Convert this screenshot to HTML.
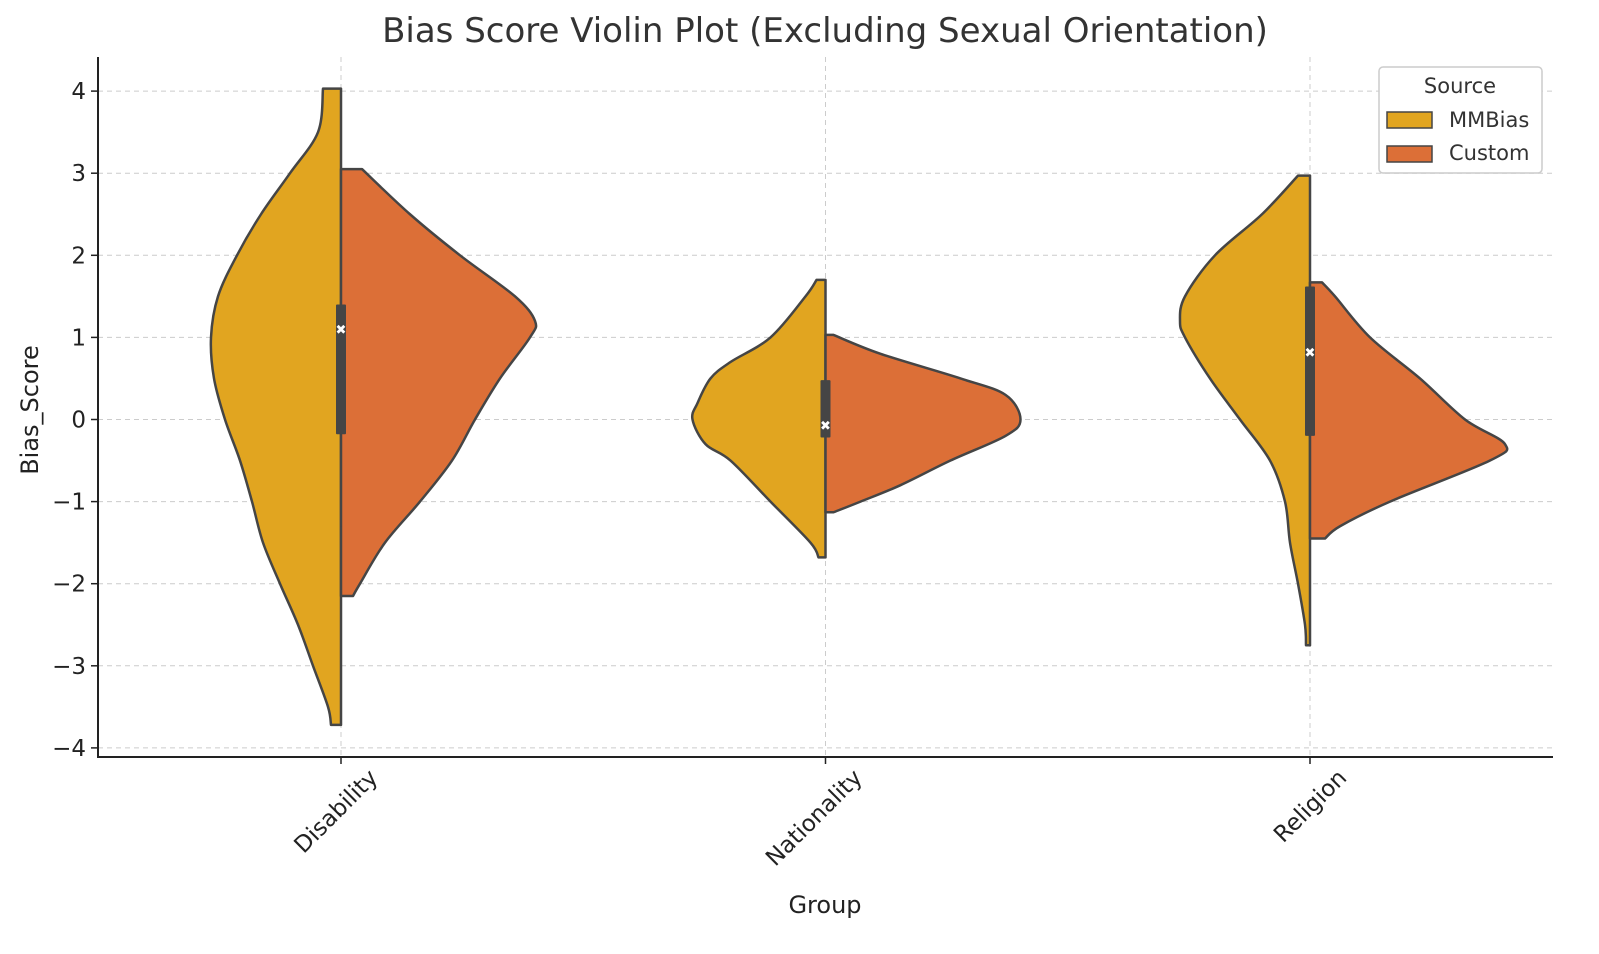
<!DOCTYPE html>
<html><head><meta charset="utf-8"><style>
body{margin:0;background:#fff;}
svg{display:block;font-family:"DejaVu Sans","Liberation Sans",sans-serif;}
</style></head><body>
<svg id="chart" width="1599" height="954"></svg>
<script>
const categories=["Disability","Nationality","Religion"];
const yTicks=[4,3,2,1,0,-1,-2,-3,-4];
// density profiles: [y, width] (width in px-equivalent units)
const mmbiasDisability=[[4.03,18],[3.5,23],[3,51],[2.5,80],[2,104],[1.5,123],[1,130],[0.5,127],[0,116],[-0.5,101],[-1,89],[-1.5,78],[-2,61],[-2.5,43],[-3,28],[-3.5,13],[-3.72,10]];
const customDisability=[[3.05,21],[2.5,69],[2,119],[1.5,174],[1.2,194],[1,189],[0.5,159],[0,134],[-0.5,111],[-1,79],[-1.5,44],[-2,19],[-2.15,12]];
const mmbiasNationality=[[1.7,9],[1.5,20],[1,55],[0.7,95],[0.5,115],[0.2,128],[0,133],[-0.3,120],[-0.5,95],[-1,55],[-1.5,15],[-1.68,7]];
const customNationality=[[1.03,8],[0.8,55],[0.5,135],[0.3,180],[0,195],[-0.2,180],[-0.5,125],[-0.8,75],[-1,35],[-1.13,8]];
const mmbiasReligion=[[2.97,12],[2.5,48],[2,95],[1.5,125],[1.2,130],[1,125],[0.5,100],[0,70],[-0.5,40],[-1,25],[-1.5,20],[-2,12],[-2.5,5],[-2.75,4]];
const customReligion=[[1.67,12],[1.5,25],[1,60],[0.5,110],[0,155],[-0.3,195],[-0.5,180],[-1,80],[-1.3,30],[-1.45,15]];
const q1s=[-0.18,-0.22,-0.2];
const q3s=[1.4,0.48,1.62];
const medians=[1.1,-0.07,0.82];
const whiskLo=[-1.3,-0.85,-2.75];
const whiskHi=[3.0,0.9,2.97];

const NS="http://www.w3.org/2000/svg";
const svg=document.getElementById('chart');
const L=98,R=1553,T=57,B=757;
const y=v=>419.5-v*82.1;
const x=i=>341+i*484.5;
function el(t,a,p){const e=document.createElementNS(NS,t);for(const k in a)e.setAttribute(k,a[k]);(p||svg).appendChild(e);return e;}
function txt(s,a){const e=el('text',a);e.textContent=s;return e;}

yTicks.forEach(v=>{
  const g=el('line',{x1:L,x2:R,y1:y(v),y2:y(v),stroke:'#cccccc','stroke-dasharray':'5,4','stroke-width':1});
  
  
});
categories.forEach((c,i)=>{
  const g=el('line',{x1:x(i),x2:x(i),y1:T,y2:B,stroke:'#cccccc','stroke-dasharray':'5,4','stroke-width':1});
  
  
});

function violinPath(cx,pts,dir){
  const P=pts.map(([v,w])=>[cx+dir*w,y(v)]);
  let d=`M${cx},${P[0][1]} L${P[0][0]},${P[0][1]}`;
  for(let i=0;i<P.length-1;i++){
    const p0=P[Math.max(0,i-1)],p1=P[i],p2=P[i+1],p3=P[Math.min(P.length-1,i+2)];
    const c1=[p1[0]+(p2[0]-p0[0])/6,p1[1]+(p2[1]-p0[1])/6];
    const c2=[p2[0]-(p3[0]-p1[0])/6,p2[1]-(p3[1]-p1[1])/6];
    d+=` C${c1[0]},${c1[1]} ${c2[0]},${c2[1]} ${p2[0]},${p2[1]}`;
  }
  d+=` L${cx},${P[P.length-1][1]} Z`;
  return d;
}
const mm=[mmbiasDisability,mmbiasNationality,mmbiasReligion];
const cu=[customDisability,customNationality,customReligion];
categories.forEach((c,i)=>{
  const a=el('path',{d:violinPath(x(i),mm[i],-1),fill:'#E1A520',stroke:'#454545','stroke-width':2.5,'stroke-linejoin':'round'});
  
  
  const b=el('path',{d:violinPath(x(i),cu[i],1),fill:'#DC6F37',stroke:'#454545','stroke-width':2.5,'stroke-linejoin':'round'});
  
  
  const w=el('line',{x1:x(i),x2:x(i),y1:y(whiskHi[i]),y2:y(whiskLo[i]),stroke:'#454545','stroke-width':2});
  
  
  const bx=el('rect',{x:x(i)-5,y:y(q3s[i]),width:10,height:y(q1s[i])-y(q3s[i]),fill:'#454545',rx:1});
  
  
  const m=txt('✖',{x:x(i),y:y(medians[i])+5,'text-anchor':'middle','font-size':13,fill:'#fff'});
  
  
});

const ax=el('path',{d:`M${L},${T} L${L},${B} L${R},${B}`,fill:'none',stroke:'#222','stroke-width':2});


yTicks.forEach(v=>{
  const t=el('line',{x1:L-7,x2:L,y1:y(v),y2:y(v),stroke:'#222','stroke-width':1.5});
  
  
  const l=txt(v<0?'\u2212'+(-v):String(v),{x:L-12,y:y(v)+8,'text-anchor':'end','font-size':23,fill:'#222'});
  
  
});
categories.forEach((c,i)=>{
  const t=el('line',{x1:x(i),x2:x(i),y1:B,y2:B+7,stroke:'#222','stroke-width':1.5});
  
  
  const ax_=x(i)+38,ay=B+22;
  const l=txt(c,{x:ax_,y:ay,'text-anchor':'end','font-size':23,fill:'#222',transform:`rotate(-45 ${ax_} ${ay})`});
  
  
});
let t=txt('Bias Score Violin Plot (Excluding Sexual Orientation)',{x:825,y:42,'text-anchor':'middle','font-size':34,fill:'#333'});


t=txt('Group',{x:825,y:913,'text-anchor':'middle','font-size':24,fill:'#222'});


t=txt('Bias_Score',{x:38,y:410,'text-anchor':'middle','font-size':24,fill:'#222',transform:'rotate(-90 38 410)'});



const lg=el('g',{});


el('rect',{x:1379,y:67,width:163,height:106,rx:4,fill:'#fff',stroke:'#cccccc','stroke-width':1.5},lg);
const lt=el('text',{x:1460,y:93,'text-anchor':'middle','font-size':21,fill:'#333'},lg);lt.textContent='Source';
const ln=['MMBias','Custom'],lc=['#E1A520','#DC6F37'];
ln.forEach((n,i)=>{
  const e=el('g',{},lg);
  
  
  el('rect',{x:1387,y:112+i*34,width:45,height:16,fill:lc[i],stroke:'#454545','stroke-width':1.5},e);
  const tx=el('text',{x:1449,y:127+i*33,'font-size':21,fill:'#333'},e);tx.textContent=n;
});
</script>
</body></html>
